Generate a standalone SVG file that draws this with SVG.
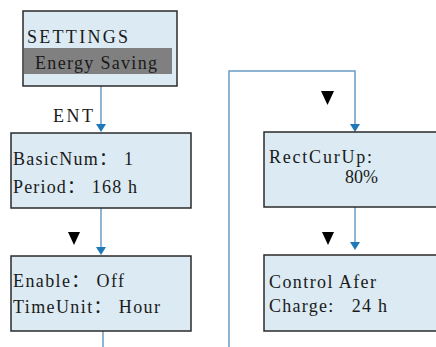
<svg xmlns="http://www.w3.org/2000/svg" width="436" height="347" viewBox="0 0 436 347">
<defs>
<style>
.box{fill:#dbeaf3;stroke:#2b2b2b;stroke-width:1.5}
.t{font-family:'Liberation Serif','DejaVu Serif',serif;font-size:18px;fill:#1a1a1a}
.c{font-family:'Noto Sans CJK SC',sans-serif}
.ln{fill:none;stroke:#6b9cc4;stroke-width:1.5}
.ah{fill:#1f78b8}
.tri{fill:#000}
</style>
</defs>
<rect width="436" height="347" fill="#fff"/>
<g id="connectors">
<path class="ln" d="M101,86 V126"/>
<polygon class="ah" points="96,124 106,124 101,132"/>
<path class="ln" d="M101,208 V249"/>
<polygon class="ah" points="96,247 106,247 101,255"/>
<path class="ln" d="M103,331 V347"/>
<path class="ln" d="M229,347 V71 H355 V126"/>
<polygon class="ah" points="350,124 360,124 355,132"/>
<path class="ln" d="M355,207 V244"/>
<polygon class="ah" points="350,242 360,242 355,250"/>
<polygon class="tri" points="68,232 80,232 74,245"/>
<polygon class="tri" points="321,91 334,91 327.5,105"/>
<polygon class="tri" points="322,232 334,232 328,245"/>
<text class="t" x="53" y="122" textLength="40" lengthAdjust="spacing">ENT</text>
</g>
<g id="settings">
<rect class="box" x="23" y="11" width="154" height="75"/>
<rect x="24" y="48" width="148" height="26" fill="#808080"/>
<text class="t" x="27" y="43" textLength="101" lengthAdjust="spacing">SETTINGS</text>
<text class="t" x="35" y="69" textLength="122" lengthAdjust="spacing">Energy Saving</text>
</g>
<g id="basic">
<rect class="box" x="11" y="133" width="180" height="75"/>
<text class="t" x="13" y="165" textLength="120" lengthAdjust="spacing">BasicNum<tspan class="c">：</tspan> 1</text>
<text class="t" x="13" y="193" textLength="124" lengthAdjust="spacing">Period<tspan class="c">：</tspan> 168 h</text>
</g>
<g id="enable">
<rect class="box" x="11" y="256" width="180" height="75"/>
<text class="t" x="13" y="287" textLength="111" lengthAdjust="spacing">Enable<tspan class="c">：</tspan> Off</text>
<text class="t" x="13" y="313" textLength="147" lengthAdjust="spacing">TimeUnit<tspan class="c">：</tspan> Hour</text>
</g>
<g id="rectcur">
<rect class="box" x="264" y="132" width="180" height="75"/>
<text class="t" x="269" y="163" textLength="103" lengthAdjust="spacing">RectCurUp:</text>
<text class="t" x="345" y="183">80%</text>
</g>
<g id="control">
<rect class="box" x="264" y="255" width="180" height="76"/>
<text class="t" x="269" y="288" textLength="107" lengthAdjust="spacing">Control Afer</text>
<text class="t" x="269" y="312" textLength="118" lengthAdjust="spacing" xml:space="preserve">Charge:   24 h</text>
</g>
</svg>
